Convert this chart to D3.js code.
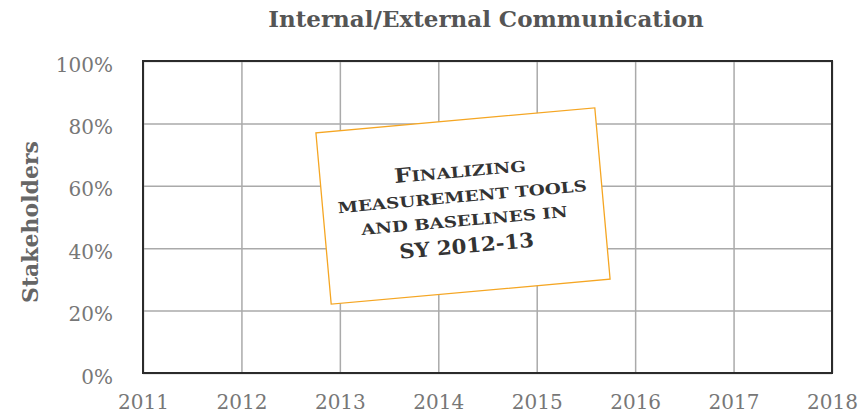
<!DOCTYPE html>
<html>
<head>
<meta charset="utf-8">
<script src="https://cdn.jsdelivr.net/npm/d3@7"></script>
<style>
  body { margin: 0; background: #fff; }
  svg { display: block; font-family: "DejaVu Serif", "Liberation Serif", serif; }
</style>
</head>
<body>
<svg id="chart"></svg>
<script>
var years = [2011, 2012, 2013, 2014, 2015, 2016, 2017, 2018];
var yTicks = [0, 0.2, 0.4, 0.6, 0.8, 1.0];
var titleText = "Internal/External Communication";
var yLabel = "Stakeholders";
var noteLines = ["Finalizing", "measurement tools", "and baselines in", "SY 2012-13"];

var W = 861, H = 419;
var margin = {top: 61, right: 29, bottom: 46, left: 143},
    width = W - margin.left - margin.right,
    height = H - margin.top - margin.bottom;

var svg = d3.select("#chart").attr("width", W).attr("height", H);

var x = d3.scaleLinear().domain([2011, 2018]).range([0, width]);
var y = d3.scaleLinear().domain([0, 1]).range([height, 0]);

var g = svg.append("g")
    .attr("transform", "translate(" + margin.left + "," + margin.top + ")");

// gridlines
g.append("g")
    .attr("class", "grid")
    .call(d3.axisBottom(x).tickValues(years).tickSize(height).tickFormat(""))
    .call(s => s.select(".domain").remove())
    .call(s => s.selectAll("line").attr("stroke", "#aaa").attr("stroke-width", 1.5));

g.append("g")
    .attr("class", "grid")
    .call(d3.axisLeft(y).tickValues(yTicks).tickSize(-width).tickFormat(""))
    .call(s => s.select(".domain").remove())
    .call(s => s.selectAll("line").attr("stroke", "#aaa").attr("stroke-width", 1.5));

// frame
g.append("rect")
    .attr("width", width).attr("height", height)
    .attr("fill", "none").attr("stroke", "#2b2b2b").attr("stroke-width", 2);

// axes labels
var xAxis = g.append("g")
    .attr("transform", "translate(0," + height + ")")
    .call(d3.axisBottom(x).tickValues(years).tickSize(0).tickPadding(22).tickFormat(d3.format("d")));
xAxis.select(".domain").remove();
xAxis.selectAll("text")
    .attr("fill", "#777").style("font-size", "20px").style("font-family", "DejaVu Serif");

var yAxis = g.append("g")
    .call(d3.axisLeft(y).tickValues(yTicks).tickSize(0).tickPadding(30).tickFormat(d3.format(".0%")));
yAxis.select(".domain").remove();
yAxis.selectAll("text")
    .attr("dy", "0.5em")
    .attr("fill", "#777").style("font-size", "20px").style("font-family", "DejaVu Serif");

// title
svg.append("text")
    .attr("x", 486).attr("y", 27)
    .attr("text-anchor", "middle")
    .attr("fill", "#555")
    .style("font-size", "23px").style("font-weight", "bold")
    .text(titleText);

// y label
svg.append("text")
    .attr("transform", "translate(38," + (margin.top + height / 2 + 5) + ") rotate(-90)")
    .attr("text-anchor", "middle")
    .attr("fill", "#666")
    .style("font-size", "22px").style("font-weight", "bold")
    .text(yLabel);

// tilted note card
var note = svg.append("g")
    .attr("transform", "translate(463,206) rotate(-5.1)");

note.append("rect")
    .attr("x", -140).attr("y", -86)
    .attr("width", 280).attr("height", 172)
    .attr("fill", "#fff").attr("stroke", "#f5a623").attr("stroke-width", 1.3);

var noteY = [-29, -4, 20, 47];
var noteW = [132, 250, 207, 135];
noteLines.forEach(function(line, i) {
    var t = note.append("text")
        .attr("x", 0).attr("y", noteY[i])
        .attr("text-anchor", "middle")
        .attr("textLength", noteW[i])
        .attr("lengthAdjust", "spacingAndGlyphs")
        .attr("fill", "#333")
        .style("font-weight", "bold")
        .style("font-family", "DejaVu Serif");
    if (i < 3) {
        var up = line.toUpperCase();
        if (i === 0) {
            t.append("tspan").style("font-size", "20px").text(up[0]);
            t.append("tspan").style("font-size", "15px").text(up.slice(1));
        } else {
            t.style("font-size", "15px").text(up);
        }
    } else {
        t.style("font-size", "20px").text(line);
    }
});
</script>
</body>
</html>
